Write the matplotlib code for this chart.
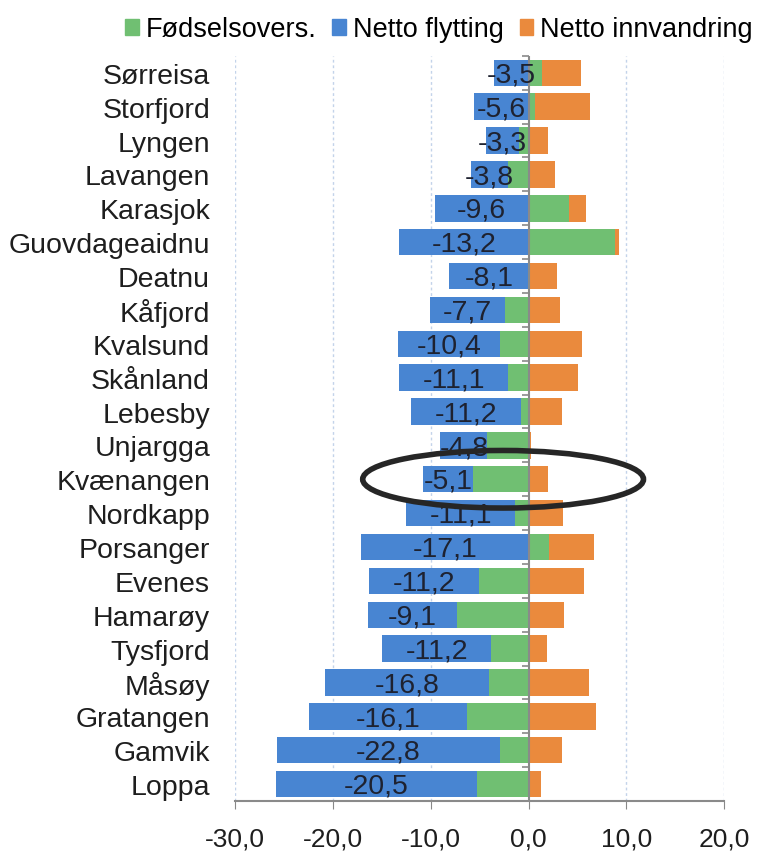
import numpy as np
import matplotlib.pyplot as plt
from matplotlib.patches import Ellipse, Patch

plt.rcParams['font.family'] = ['Liberation Sans', 'DejaVu Sans']

# Data
kommuner = ['Sørreisa', 'Storfjord', 'Lyngen', 'Lavangen', 'Karasjok', 'Guovdageaidnu',
            'Deatnu', 'Kåfjord', 'Kvalsund', 'Skånland', 'Lebesby', 'Unjargga',
            'Kvænangen', 'Nordkapp', 'Porsanger', 'Evenes', 'Hamarøy', 'Tysfjord',
            'Måsøy', 'Gratangen', 'Gamvik', 'Loppa']
fodselsovers = [1.4, 0.7, -1.0, -2.1, 4.1, 8.8, 0.2, -2.4, -2.9, -2.1, -0.8, -4.2,
                -5.7, -1.4, 2.1, -5.1, -7.3, -3.8, -4.0, -6.3, -2.9, -5.3]
netto_flytting = [-3.5, -5.6, -3.3, -3.8, -9.6, -13.2, -8.1, -7.7, -10.4, -11.1, -11.2, -4.8,
                  -5.1, -11.1, -17.1, -11.2, -9.1, -11.2, -16.8, -16.1, -22.8, -20.5]
netto_innvandring = [4.0, 5.6, 2.0, 2.7, 1.8, 0.4, 2.7, 3.2, 5.5, 5.1, 3.4, 0.3,
                     2.0, 3.5, 4.6, 5.7, 3.6, 1.9, 6.2, 6.9, 3.4, 1.3]

serier = [('Fødselsovers.', fodselsovers, '#70bf72'),
          ('Netto flytting', netto_flytting, '#4885d2'),
          ('Netto innvandring', netto_innvandring, '#ea8a3d')]

fig = plt.figure(figsize=(7.68, 8.62), dpi=100)
ax = fig.add_axes([0.306, 0.0696, 0.637, 0.8644])

y = np.arange(len(kommuner))
pos_base = np.zeros(len(kommuner))
neg_base = np.zeros(len(kommuner))
blue_left = None
for navn, verdier, farge in serier:
    v = np.array(verdier)
    left = np.where(v >= 0, pos_base, neg_base)
    ax.barh(y, v, left=left, height=0.78, color=farge, zorder=3)
    if navn == 'Netto flytting':
        blue_left = left.copy()
    pos_base += np.where(v >= 0, v, 0)
    neg_base += np.where(v < 0, v, 0)

# value labels in the middle of the blue segment
for i, v in enumerate(netto_flytting):
    ax.text(blue_left[i] + v / 2, y[i] + 0.05, f'{v:.1f}'.replace('.', ','),
            ha='center', va='center', fontsize=20.5, color='#1e2230', zorder=5)

ax.set_xlim(-30, 20)
ax.set_ylim(len(kommuner) - 0.5, -0.5)
xt = [-30, -20, -10, 0, 10, 20]
ax.set_xticks(xt)
ax.set_xticklabels([f'{t:.1f}'.replace('.', ',') for t in xt], fontsize=19, color='#1e1e1e')
ax.tick_params(axis='x', length=6, color='#888888', pad=12)
ax.set_yticks(y)
ax.set_yticklabels(kommuner, fontsize=20.5, color='#1e1e1e')
ax.tick_params(axis='y', length=0, pad=18)

for s in ['top', 'right', 'left']:
    ax.spines[s].set_visible(False)
ax.spines['bottom'].set_color('#8a8a8a')
ax.spines['bottom'].set_linewidth(1.5)

for g in [-30, -20, -10, 10, 20]:
    ax.axvline(g, color='#c3d3ea', lw=1, ls=(0, (2, 2)), zorder=1)

# category axis at zero with small ticks between categories
ax.axvline(0, color='#8a8a8a', lw=1.5, zorder=4)
sec = ax.secondary_yaxis(0.6)
sec.spines['right'].set_visible(False)
sec.spines['left'].set_visible(False)
sec.set_yticks([])
sec.set_yticks(np.arange(len(kommuner) + 1) - 0.5, minor=True)
sec.tick_params(axis='y', which='minor', length=5, color='#8a8a8a', width=1.2,
                direction='out', left=True, right=False)

# hand-drawn ring around Kvænangen
ax.add_patch(Ellipse((-2.6, 12.0), 28.7, 1.7, fill=False, lw=4,
                     edgecolor='#262626', clip_on=False, zorder=6))

handles = [Patch(color=f) for _, _, f in serier]
fig.legend(handles, [n for n, _, _ in serier], loc='upper right',
           bbox_to_anchor=(1.012, 1.008), ncol=3, frameon=False, fontsize=19.5,
           handlelength=0.5, handleheight=0.5, handletextpad=0.25, columnspacing=0.6)

fig.savefig('out.png', dpi=100)
